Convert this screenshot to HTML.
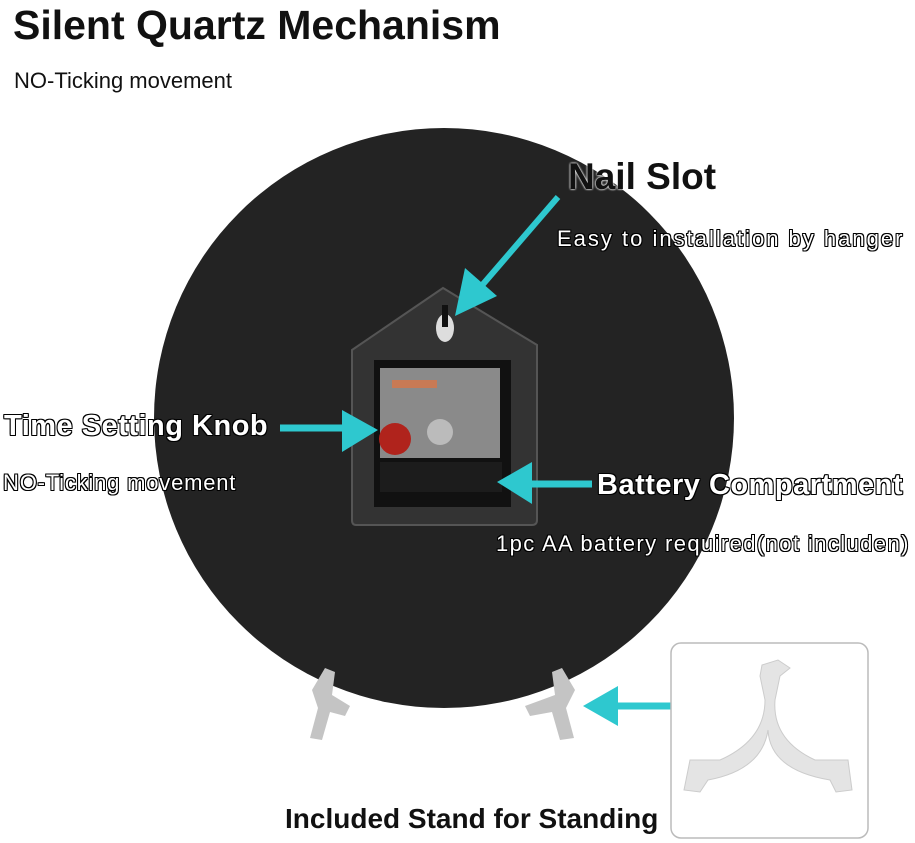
<!DOCTYPE html>
<html><head><style>
body{margin:0;width:915px;height:843px;background:#fff;position:relative;overflow:hidden;font-family:"Liberation Sans",sans-serif}
.t{position:absolute;white-space:nowrap;color:#111}
.o{color:#fff;text-shadow:-1px -1px 0 #000,1px -1px 0 #000,-1px 1px 0 #000,1px 1px 0 #000,0 1px 0 #000,0 -1px 0 #000,1px 0 0 #000,-1px 0 0 #000}
</style></head><body>
<svg width="915" height="843" style="position:absolute;left:0;top:0">
<circle cx="444" cy="418" r="290" fill="#232323"/>
<path d="M352 350 L443 288 L537 345 L537 520 Q537 525 532 525 L356 525 Q352 525 352 520 Z" fill="#333" stroke="#555" stroke-width="2"/>
<rect x="374" y="360" width="137" height="147" fill="#111"/>
<rect x="380" y="368" width="120" height="90" fill="#8a8a8a"/>
<rect x="392" y="380" width="45" height="8" fill="#c87a55"/>
<circle cx="440" cy="432" r="13" fill="#bbb"/>
<circle cx="395" cy="439" r="16" fill="#b0231c"/>
<rect x="380" y="462" width="122" height="30" fill="#1c1c1c"/>
<ellipse cx="445" cy="328" rx="9" ry="14" fill="#ddd"/>
<rect x="442" y="305" width="6" height="22" fill="#111"/>
<path d="M312 690 L325 668 L335 672 L332 695 L350 706 L345 716 L330 712 L322 740 L310 738 L318 708 Z" fill="#c4c4c4"/>
<path d="M575 690 L562 668 L552 672 L555 695 L525 706 L530 716 L552 712 L560 740 L574 738 L566 708 Z" fill="#c4c4c4"/>
<g fill="#2ec8cf" stroke="#2ec8cf">
<line x1="558" y1="197" x2="478" y2="290" stroke-width="6"/>
<polygon points="455,316 465,268 497,296" stroke="none"/>
<line x1="280" y1="428" x2="345" y2="428" stroke-width="7"/>
<polygon points="378,430 342,410 342,452" stroke="none"/>
<line x1="592" y1="484" x2="530" y2="484" stroke-width="7"/>
<polygon points="497,482 532,462 532,504" stroke="none"/>
<line x1="750" y1="706" x2="615" y2="706" stroke-width="7"/>
<polygon points="583,706 618,686 618,726" stroke="none"/>
</g>
<rect x="671" y="643" width="197" height="195" rx="10" fill="#fff" stroke="#bbb" stroke-width="1.5"/>
<path d="M762 665 L778 660 L790 668 L780 676 L775 700 Q772 740 815 760 L848 760 L852 790 L836 792 L830 780 Q770 770 768 730 Q762 770 708 780 L700 792 L684 790 L690 760 L720 760 Q765 740 765 700 L760 676 Z" fill="#e4e4e4" stroke="#ccc"/>
</svg>
<div class="t" style="left:13px;top:2px;font-size:41px;font-weight:bold">Silent Quartz Mechanism</div>
<div class="t" style="left:14px;top:68px;font-size:22px">NO-Ticking movement</div>
<div class="t" style="left:568px;top:156px;font-size:37px;font-weight:bold;color:#111;text-shadow:0 0 2px #fff,0 0 2px #fff">Nail Slot</div>
<div class="t o" style="left:557px;top:226px;font-size:22px;letter-spacing:2px">Easy to installation by hanger</div>
<div class="t o" style="left:4px;top:410px;font-size:29px;font-weight:bold;letter-spacing:0.5px">Time Setting Knob</div>
<div class="t o" style="left:3px;top:470px;font-size:22px;letter-spacing:0.8px">NO-Ticking movement</div>
<div class="t o" style="left:597px;top:469px;font-size:29px;font-weight:bold;letter-spacing:0.5px">Battery Compartment</div>
<div class="t o" style="left:496px;top:531px;font-size:22px;letter-spacing:1.4px">1pc AA battery required(not includen)</div>
<div class="t" style="left:285px;top:803px;font-size:28px;font-weight:bold">Included Stand for Standing</div>
</body></html>
